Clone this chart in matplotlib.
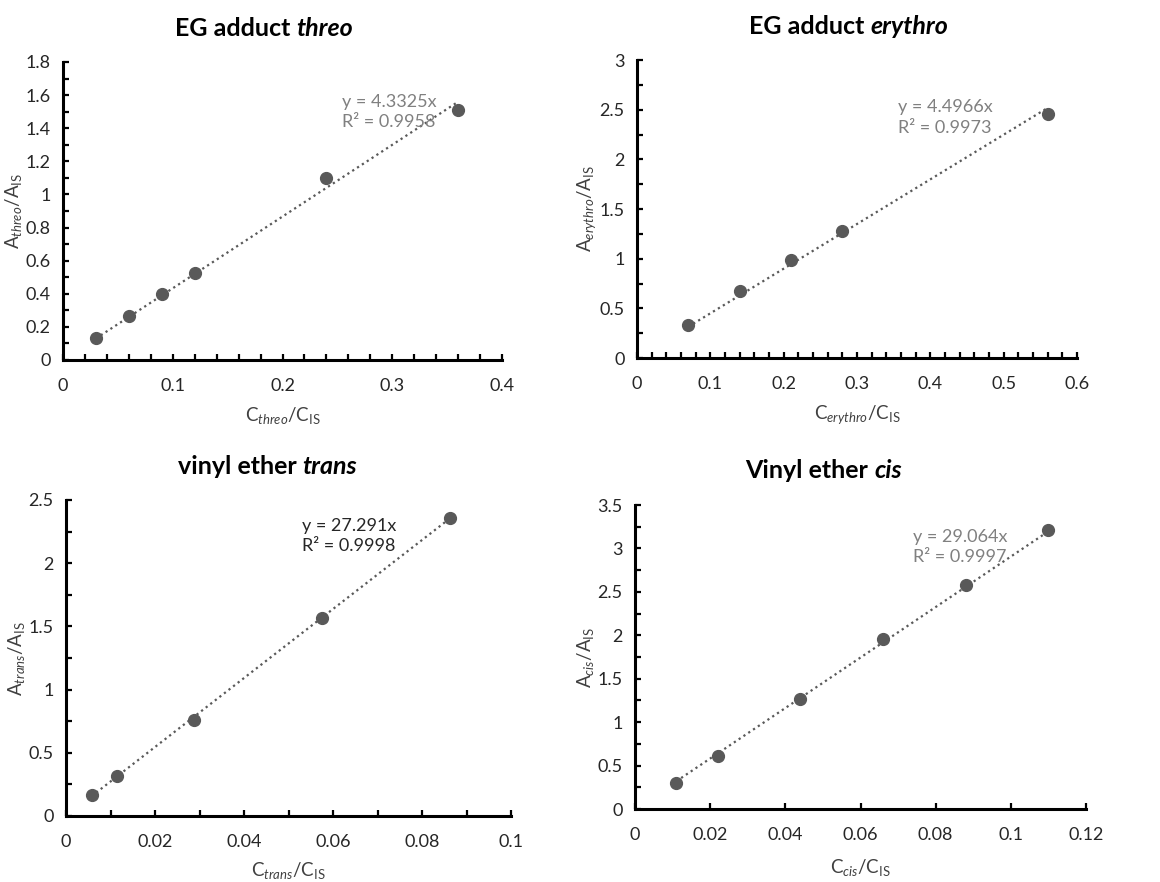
import matplotlib
matplotlib.use("Agg")
import matplotlib.pyplot as plt
from matplotlib.ticker import MultipleLocator
import numpy as np

plt.rcParams['font.family'] = ['Lato', 'DejaVu Sans']
plt.rcParams['mathtext.fontset'] = 'custom'
plt.rcParams['mathtext.rm'] = 'Lato'
plt.rcParams['mathtext.it'] = 'Lato:italic'

# data
threo_x = [0.03, 0.06, 0.09, 0.12, 0.24, 0.36]
threo_y = [0.133, 0.268, 0.40, 0.528, 1.098, 1.51]
erythro_x = [0.07, 0.14, 0.21, 0.28, 0.56]
erythro_y = [0.335, 0.67, 0.985, 1.28, 2.46]
trans_x = [0.00575, 0.0115, 0.02875, 0.0575, 0.08625]
trans_y = [0.163, 0.315, 0.763, 1.565, 2.36]
cis_x = [0.011, 0.022, 0.044, 0.066, 0.088, 0.11]
cis_y = [0.305, 0.615, 1.265, 1.955, 2.575, 3.21]

slopes = [4.3325, 4.4966, 27.291, 29.064]
slope_txt = ['4.3325', '4.4966', '27.291', '29.064']
r2 = ['0.9958', '0.9973', '0.9998', '0.9997']

fig = plt.figure(figsize=(11.6, 8.82), dpi=100)
W, H = 1160, 882

def box(l, t, r, b):
    return [l / W, 1 - b / H, (r - l) / W, (b - t) / H]

panels = [
    dict(x=threo_x, y=threo_y, rect=box(63, 62, 502, 360), ylim=1.8, ymaj=0.2, ymin=0.1,
         xlim=0.4, xmaj=0.1, xmin=0.02, head='EG adduct ', it='threo', tc='#808080',
         tpos=(0.636, 0.832), xpad=8),
    dict(x=erythro_x, y=erythro_y, rect=box(637, 60, 1077, 358), ylim=3, ymaj=0.5, ymin=0.25,
         xlim=0.6, xmaj=0.1, xmin=0.02, head='EG adduct ', it='erythro', tc='#808080',
         tpos=(0.593, 0.807), xpad=8),
    dict(x=trans_x, y=trans_y, rect=box(66, 500, 511, 816), ylim=2.5, ymaj=0.5, ymin=0.25,
         xlim=0.1, xmaj=0.02, xmin=0.01, head='vinyl ether ', it='trans', tc='#262626',
         tpos=(0.530, 0.886), xpad=7),
    dict(x=cis_x, y=cis_y, rect=box(635, 505, 1086, 809), ylim=3.5, ymaj=0.5, ymin=0.25,
         xlim=0.12, xmaj=0.02, xmin=0.02, head='Vinyl ether ', it='cis', tc='#808080',
         tpos=(0.616, 0.862), xpad=10),
]

fmt = plt.FuncFormatter(lambda v, pos: '%g' % round(v, 6))

for i, p in enumerate(panels):
    ax = fig.add_axes(p['rect'])
    xs = np.array(p['x'])
    ax.plot(xs, slopes[i] * xs, color='#595959', lw=1.6, ls=(0, (1, 1.6)), zorder=2)
    ax.plot(xs, p['y'], 'o', color='#595959', ms=8.5, zorder=3)
    ax.set_xlim(0, p['xlim'])
    ax.set_ylim(0, p['ylim'])
    ax.xaxis.set_major_locator(MultipleLocator(p['xmaj']))
    ax.xaxis.set_minor_locator(MultipleLocator(p['xmin']))
    ax.yaxis.set_major_locator(MultipleLocator(p['ymaj']))
    ax.yaxis.set_minor_locator(MultipleLocator(p['ymin']))
    ax.xaxis.set_major_formatter(fmt)
    ax.yaxis.set_major_formatter(fmt)
    for s in ['top', 'right']:
        ax.spines[s].set_visible(False)
    for s in ['left', 'bottom']:
        ax.spines[s].set_linewidth(2.2)
        ax.spines[s].set_color('black')
    ax.tick_params(which='both', direction='in', length=4.5, width=1.6, color='black',
                   labelsize=13, labelcolor='#262626')
    ax.tick_params(axis='x', which='major', pad=13)
    ax.tick_params(axis='y', which='major', pad=9)
    ax.set_xlabel(r'$\mathrm{C}_{\mathit{%s}}/\mathrm{C}_{\mathrm{IS}}$' % p['it'],
                  fontsize=13.5, color='#404040', labelpad=p['xpad'])
    ax.set_ylabel(r'$\mathrm{A}_{\mathit{%s}}/\mathrm{A}_{\mathrm{IS}}$' % p['it'],
                  fontsize=13.5, color='#404040', labelpad=1)
    # title with an italic part
    cx = p['rect'][0] + p['rect'][2] / 2 + 0.012
    ty = p['rect'][1] + p['rect'][3] + 34 / H
    fig.text(cx, ty, p['head'], ha='right', va='center', fontsize=18,
             fontweight='bold', color='black')
    fig.text(cx, ty, p['it'], ha='left', va='center', fontsize=18,
             fontweight='bold', fontstyle='italic', color='black')
    ax.text(p['tpos'][0], p['tpos'][1], 'y = %sx\nR² = %s' % (slope_txt[i], r2[i]),
            transform=ax.transAxes, fontsize=13, color=p['tc'], va='center',
            linespacing=1.35)

fig.savefig('out.png', dpi=100)
